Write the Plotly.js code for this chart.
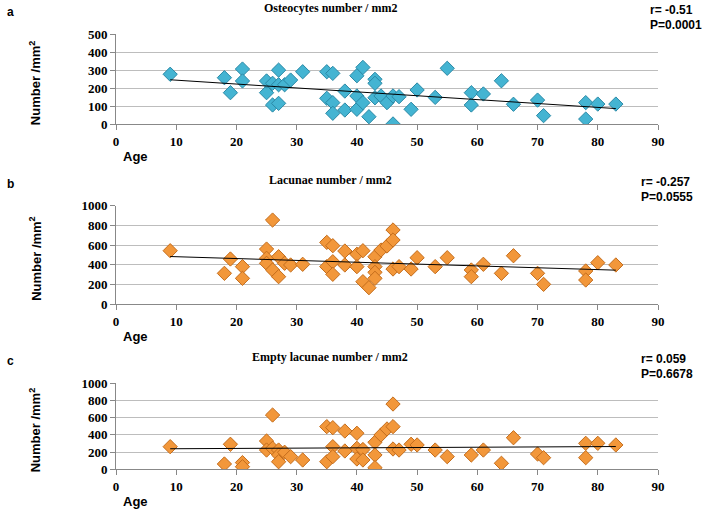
<!DOCTYPE html>
<html>
<head>
<meta charset="utf-8">
<script src="https://cdn.plot.ly/plotly-3.0.1.min.js"></script>
<style>html,body{margin:0;padding:0;background:#fff}#chart{width:703px;height:514px}</style>
</head>
<body>
<div id="chart"></div>
<script>
// Panel a: Osteocytes number / mm2
const ageA = [9,18,19,21,21,25,25,26,26,27,27,28,27,29,31,35,36,35,36,36,38,38,40,40,40,41,41,42,43,43,43,44,45,46,46,47,49,50,53,55,59,59,61,64,66,70,71,78,78,80,83];
const osteo = [277,258,175,306,240,175,240,227,107,300,219,219,116,245,291,291,282,144,120,61,184,79,269,157,83,315,120,42,249,227,147,157,120,157,2,153,83,190,149,310,175,107,168,241,111,134,48,120,29,112,112];

// Panel b: Lacunae number / mm2
const ageB = [9,18,19,21,21,25,25,25,26,26,27,27,28,29,31,35,36,35,36,36,38,38,40,41,40,41,42,43,43,43,43,44,45,46,46,46,47,49,50,53,55,59,59,61,64,66,70,71,78,78,80,83];
const lacunae = [542,312,458,380,261,559,465,414,854,346,481,278,414,397,404,627,593,380,430,302,539,397,506,542,380,227,166,481,380,322,261,549,590,753,651,356,380,356,471,380,471,346,278,404,312,491,312,200,336,244,420,397];

// Panel c: Empty lacunae number / mm2
const ageC = [9,18,19,21,21,25,25,26,26,27,27,27,28,29,31,35,36,35,36,36,38,38,40,40,40,41,41,43,43,43,44,45,46,46,46,47,49,50,53,55,59,61,64,66,70,71,78,78,80,83];
const empty = [263,62,291,78,30,329,224,631,244,224,166,88,198,147,108,496,484,88,263,147,445,213,419,244,120,230,108,314,166,19,399,469,759,496,236,224,291,283,224,147,166,224,70,367,178,135,302,135,302,283];

const panelTitles = ['Osteocytes number / mm2','Lacunae number / mm2','Empty lacunae number / mm2'];
const panelLetters = ['a','b','c'];
const rTexts = ['r= -0.51','r= -0.257','r= 0.059'];
const pTexts = ['P=0.0001','P=0.0555','P=0.6678'];
const xTicks = [0,10,20,30,40,50,60,70,80,90];
const yTicksA = [0,100,200,300,400,500];
const yTicksBC = [0,200,400,600,800,1000];

function fit(x, y) {
  const n = x.length;
  let sx=0, sy=0, sxx=0, sxy=0;
  for (let i=0;i<n;i++){sx+=x[i];sy+=y[i];sxx+=x[i]*x[i];sxy+=x[i]*y[i];}
  const b = (n*sxy - sx*sy)/(n*sxx - sx*sx);
  const a = (sy - b*sx)/n;
  const xmin = Math.min(...x), xmax = Math.max(...x);
  return {x:[xmin,xmax], y:[a+b*xmin, a+b*xmax]};
}

const blue = {color:'#44b4d2', line:{color:'#2a89a6', width:1}};
const orange = {color:'#f2973a', line:{color:'#c46d1c', width:1}};
const sets = [[ageA, osteo, blue],[ageB, lacunae, orange],[ageC, empty, orange]];

const traces = [];
sets.forEach((s, i) => {
  const xa = i===0 ? 'x' : 'x'+(i+1);
  const ya = i===0 ? 'y' : 'y'+(i+1);
  traces.push({x:s[0], y:s[1], type:'scatter', mode:'markers', xaxis:xa, yaxis:ya,
    marker:Object.assign({symbol:'diamond', size:11}, s[2]), hoverinfo:'x+y'});
  const f = fit(s[0], s[1]);
  traces.push({x:f.x, y:f.y, type:'scatter', mode:'lines', xaxis:xa, yaxis:ya,
    line:{color:'#000', width:1}, hoverinfo:'skip'});
});

const W = 703, H = 514;
const xDom = [116/W, 658/W];
const yPx = [[34,124.3],[205.7,304],[383.3,469.3]];
const statX = [648, 639, 639];
const tickFont = {family:'"Liberation Serif", "Times New Roman", serif', size:13, color:'#000', weight:'bold'};

const layout = {
  width:W, height:H, margin:{l:0,r:0,t:0,b:0},
  paper_bgcolor:'#fff', plot_bgcolor:'#fff', showlegend:false,
  font:{family:'"Liberation Sans", Arial, sans-serif', color:'#000'},
  annotations:[]
};

yPx.forEach((p, i) => {
  const k = i===0 ? '' : String(i+1);
  const yd = [1 - p[1]/H, 1 - p[0]/H];
  layout['xaxis'+k] = {domain:xDom, anchor:'y'+k, range:[0,90], tickvals:xTicks, ticktext:xTicks.map(String),
    showgrid:false, zeroline:false, showline:true, linecolor:'#888', linewidth:1,
    ticks:'outside', ticklen:5, tickcolor:'#888', tickfont:tickFont, fixedrange:true};
  const yt = i===0 ? yTicksA : yTicksBC;
  layout['yaxis'+k] = {domain:yd, anchor:'x'+k, range:[0, yt[yt.length-1]], tickvals:yt, ticktext:yt.map(String),
    showgrid:true, gridcolor:'#bdbdbd', gridwidth:1, zeroline:false, showline:true, linecolor:'#888', linewidth:1,
    ticks:'outside', ticklen:5, tickcolor:'#888', tickfont:tickFont, fixedrange:true};

  const top = p[0], bot = p[1];
  const ann = layout.annotations;
  ann.push({xref:'paper', yref:'paper', x:330/W, y:1-(top-26)/H, text:'<b>'+panelTitles[i]+'</b>', showarrow:false,
    xanchor:'center', yanchor:'middle', font:{family:'"Liberation Serif", "Times New Roman", serif', size:12, color:'#000'}});
  ann.push({xref:'paper', yref:'paper', x:5/W, y:1-(top-22)/H, text:'<b>'+panelLetters[i]+'</b>', showarrow:false,
    xanchor:'left', yanchor:'middle', font:{size:12, color:'#000'}});
  ann.push({xref:'paper', yref:'paper', x:statX[i]/W, y:1-(top-24)/H, text:'<b>'+rTexts[i]+'</b>', showarrow:false,
    xanchor:'left', yanchor:'middle', font:{size:12, color:'#000'}});
  ann.push({xref:'paper', yref:'paper', x:statX[i]/W, y:1-(top-9)/H, text:'<b>'+pTexts[i]+'</b>', showarrow:false,
    xanchor:'left', yanchor:'middle', font:{size:12, color:'#000'}});
  ann.push({xref:'paper', yref:'paper', x:121/W, y:1-(bot+32)/H, text:'<b>Age</b>', showarrow:false,
    xanchor:'left', yanchor:'middle', font:{size:13, color:'#000'}});
  ann.push({xref:'paper', yref:'paper', x:35/W, y:1-((top+bot)/2+4)/H, text:'<b>Number /mm<sup>2</sup></b>', showarrow:false,
    xanchor:'center', yanchor:'middle', textangle:-90, font:{size:13, color:'#000'}});
});

Plotly.newPlot('chart', traces, layout, {staticPlot:true, displayModeBar:false});
</script>
</body>
</html>
